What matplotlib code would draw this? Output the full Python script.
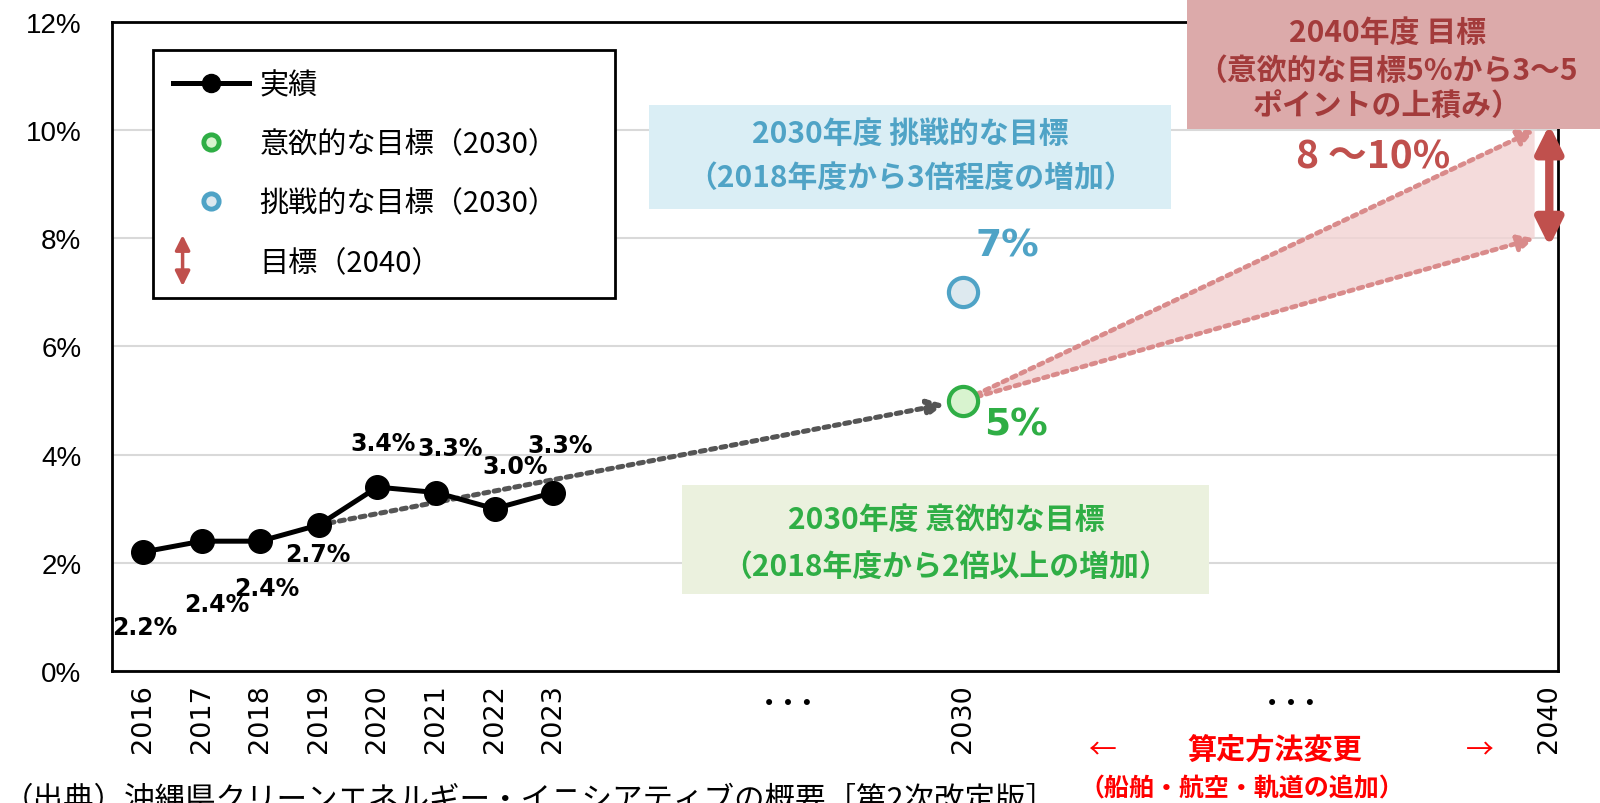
import matplotlib
matplotlib.use("Agg")
import matplotlib.pyplot as plt
from matplotlib.lines import Line2D
from matplotlib.patches import Rectangle, Polygon, FancyArrowPatch
from matplotlib.legend_handler import HandlerPatch

plt.rcParams['font.family'] = ['Noto Sans CJK JP', 'DejaVu Sans']

# data
years = [2016, 2017, 2018, 2019, 2020, 2021, 2022, 2023]
share = [2.2, 2.4, 2.4, 2.7, 3.4, 3.3, 3.0, 3.3]
label_offsets = [(1, -54), (11, -45), (5, -34), (-1, -21), (4, 32), (10, 32), (15, 31), (5, 34)]
target_year = 2030
target_ambitious = 5.0
target_challenge = 7.0
goal_year = 2040
goal_low, goal_high = 8.0, 10.0
xticks = years + [target_year, goal_year]
yticks = [0, 2, 4, 6, 8, 10, 12]

BLACK = '#000000'
GREEN = '#2fae45'
GREEN_FILL = '#d8f3cf'
BLUE = '#4fa3c6'
BLUE_FILL = '#dde9ef'
RED = '#c0504d'
PINK_FILL = '#f2d3d3'
PINK_LINE = '#d98b8b'
DOTS = (0, (1, 1.1))

fig = plt.figure(figsize=(16, 8.04), dpi=100)
ax = fig.add_axes([0.07, 0.1642, 0.9038, 0.8072])
ax.set_xlim(2015.47, 2040.15)
ax.set_ylim(0, 12)

ax.set_yticks(yticks)
ax.set_yticklabels([f'{v}%' for v in yticks], family='Liberation Sans', fontsize=20)
ax.set_xticks(xticks)
ax.set_xticklabels([str(y) for y in xticks], rotation=90, family='DejaVu Sans', fontsize=19.5)
ax.tick_params(axis='x', length=0, pad=9)
ax.tick_params(axis='y', length=0, pad=22)
ax.yaxis.grid(True, color='#d9d9d9', lw=1.5)
ax.set_axisbelow(True)
for s in ax.spines.values():
    s.set_linewidth(2)

# annotation boxes
ax.add_patch(Rectangle((2024.64, 8.54), 8.91, 1.92, facecolor='#daeef5', edgecolor='none', zorder=1))
ax.text(2029.1, 9.94, '2030年度 挑戦的な目標', color=BLUE, fontsize=21.5, fontweight='bold', ha='center', va='center')
ax.text(2029.1, 9.13, '（2018年度から3倍程度の増加）', color=BLUE, fontsize=21.5, fontweight='bold', ha='center', va='center')
ax.add_patch(Rectangle((2025.2, 1.43), 9.0, 2.0, facecolor='#ebf1de', edgecolor='none', zorder=1))
ax.text(2029.7, 2.81, '2030年度 意欲的な目標', color=GREEN, fontsize=21.5, fontweight='bold', ha='center', va='center')
ax.text(2029.7, 1.94, '（2018年度から2倍以上の増加）', color=GREEN, fontsize=21.5, fontweight='bold', ha='center', va='center')

# fan towards 2040
ax.add_patch(Polygon([(target_year, target_ambitious), (goal_year - 0.25, goal_high), (goal_year - 0.25, goal_low)],
                     closed=True, facecolor=PINK_FILL, edgecolor='none', alpha=0.8, zorder=2))
for g in (goal_high, goal_low):
    ax.annotate('', xy=(goal_year - 0.25, g), xytext=(target_year, target_ambitious),
                arrowprops=dict(arrowstyle='-|>', color=PINK_LINE, lw=3.4, ls=DOTS, mutation_scale=24,
                                shrinkA=10, shrinkB=0), zorder=3)

# trend arrow
ax.annotate('', xy=(target_year, target_ambitious), xytext=(years[3], share[3]),
            arrowprops=dict(arrowstyle='-|>', color='#555555', lw=3.6, ls=DOTS, mutation_scale=24,
                            shrinkA=0, shrinkB=14), zorder=3)

# actual series
ax.plot(years, share, color=BLACK, lw=3.6, marker='o', ms=17, zorder=5)
for y, v, off in zip(years, share, label_offsets):
    ax.annotate(f'{v:.1f}%', (y, v), xytext=off, textcoords='offset points', ha='center', va='center',
                fontsize=17, fontweight='bold', family='DejaVu Sans', zorder=6)

# 2030 targets
ax.plot([target_year], [target_ambitious], 'o', ms=21, mfc=GREEN_FILL, mec=GREEN, mew=3, zorder=6)
ax.plot([target_year], [target_challenge], 'o', ms=21, mfc=BLUE_FILL, mec=BLUE, mew=3, zorder=6)
ax.annotate(f'{target_challenge:.0f}%', (target_year, target_challenge), xytext=(32, 34), textcoords='offset points',
            color=BLUE, fontsize=27, fontweight='bold', family='DejaVu Sans', ha='center', va='center')
ax.annotate(f'{target_ambitious:.0f}%', (target_year, target_ambitious), xytext=(38, -17), textcoords='offset points',
            color=GREEN, fontsize=27, fontweight='bold', family='DejaVu Sans', ha='center', va='center')

# 2040 goal range
ax.annotate('', xy=(goal_year, goal_low - 0.15), xytext=(goal_year, goal_high + 0.1),
            arrowprops=dict(arrowstyle='<|-|>', color=RED, lw=6, mutation_scale=40, shrinkA=0, shrinkB=0), zorder=6)
ax.text(2037.0, 9.52, f'{goal_low:.0f} ～{goal_high:.0f}%', color=RED, fontsize=28, fontweight='bold',
        ha='center', va='center')

# dots between ticks
for xd in (2027.0, 2035.6):
    ax.text(xd, -0.6, '• • •', fontsize=15, ha='center', va='center', family='DejaVu Sans')

# legend
class HandlerDoubleArrow(HandlerPatch):
    def create_artists(self, legend, orig_handle, xdescent, ydescent, width, height, fontsize, trans):
        cx = 0.12 * width - xdescent
        p = FancyArrowPatch((cx, -ydescent - 0.75 * height), (cx, 1.75 * height - ydescent),
                            arrowstyle='<|-|>', mutation_scale=22, color=RED, lw=2.5, shrinkA=0, shrinkB=0)
        p.set_transform(trans)
        return [p]

h_actual = Line2D([], [], color=BLACK, lw=3.6, marker='o', ms=13)
h_amb = Line2D([], [], ls='none', marker='o', ms=11, mfc=GREEN_FILL, mec=GREEN, mew=3.5)
h_chal = Line2D([], [], ls='none', marker='o', ms=11, mfc=BLUE_FILL, mec=BLUE, mew=3.5)
h_goal = FancyArrowPatch((0, 0), (0, 1))
leg = ax.legend([h_actual, h_amb, h_chal, h_goal],
                ['実績', '意欲的な目標（2030）', '挑戦的な目標（2030）', '目標（2040）'],
                handler_map={FancyArrowPatch: HandlerDoubleArrow()},
                loc='upper left', bbox_to_anchor=(0.0284, 0.5, 0.3195, 0.457), mode='expand',
                borderaxespad=0, fontsize=21, frameon=True, fancybox=False, edgecolor=BLACK, framealpha=1,
                labelspacing=1.0, handlelength=2.6, handletextpad=0.35, borderpad=0.7)
leg.get_frame().set_linewidth(2)
leg.set_zorder(10)

# 2040 headline box (figure coords)
fig.patches.append(Rectangle((0.742, 0.838), 0.26, 0.165, transform=fig.transFigure,
                             facecolor='#dcaaaa', edgecolor='none', zorder=20))
for yy, t in zip((0.959, 0.912, 0.867), ('2040年度 目標', '（意欲的な目標5%から3～5', 'ポイントの上積み）')):
    fig.text(0.867, yy, t, color='#a33b3b', fontsize=21.5, fontweight='bold', ha='center', va='center', zorder=21)

# notes below the axis
fig.text(0.797, 0.067, '算定方法変更', color='#ff0000', fontsize=21, fontweight='bold', ha='center', va='center')
fig.text(0.689, 0.067, '←', color='#ff0000', fontsize=20, ha='center', va='center')
fig.text(0.925, 0.067, '→', color='#ff0000', fontsize=20, ha='center', va='center')
fig.text(0.776, 0.018, '（船舶・航空・軌道の追加）', color='#ff0000', fontsize=18, fontweight='bold', ha='center', va='center')
fig.text(0.002, 0.004, '（出典）沖縄県クリーンエネルギー・イニシアティブの概要［第2次改定版］', fontsize=22,
         ha='left', va='center')

fig.savefig('out.png', dpi=100)
